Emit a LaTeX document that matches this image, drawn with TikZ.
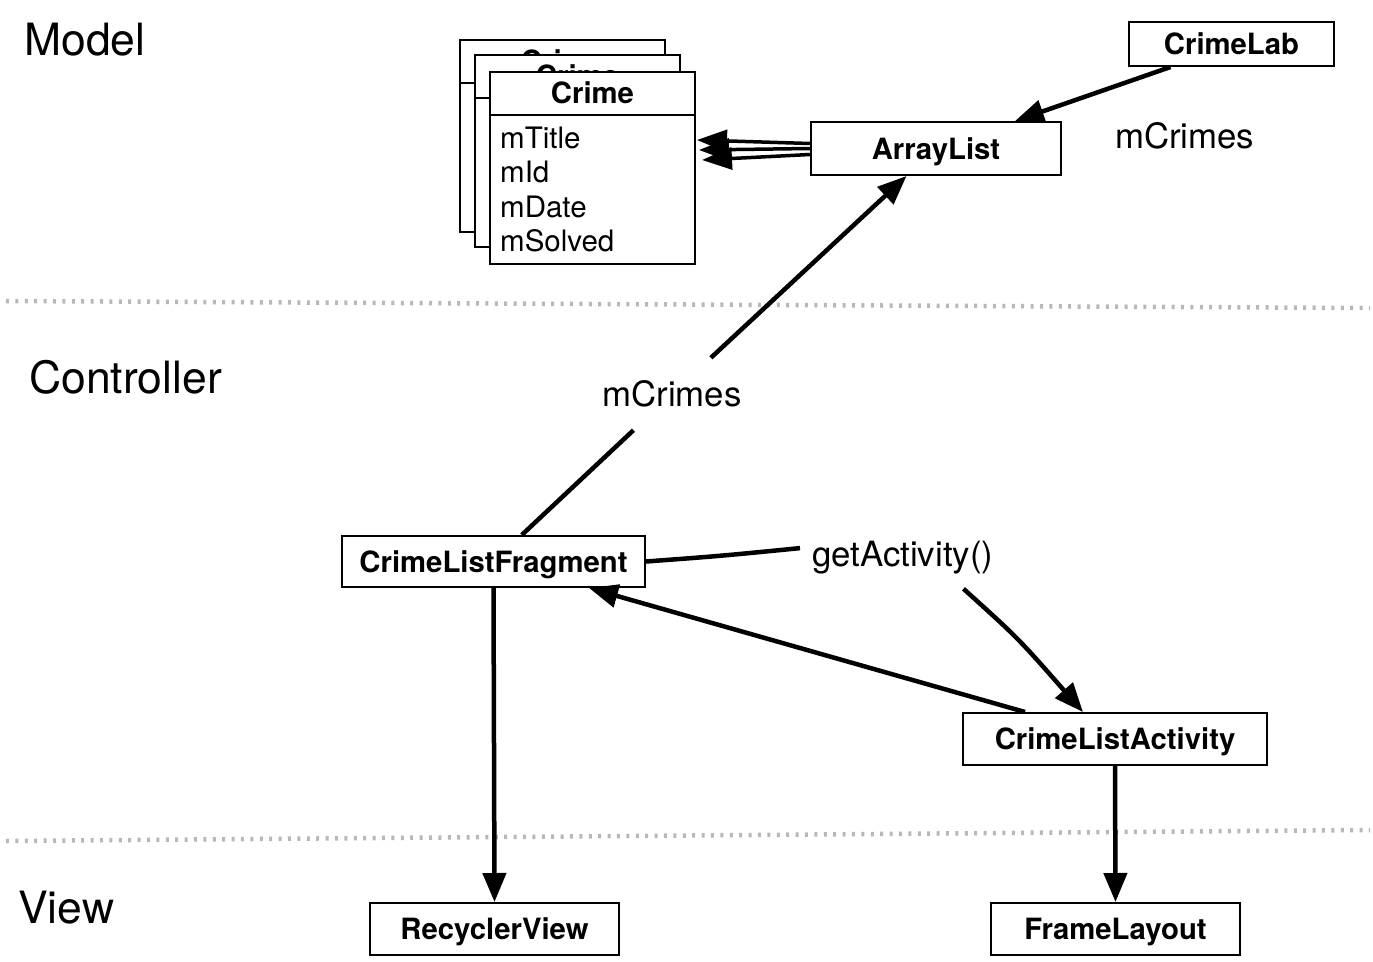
\documentclass[tikz,border=0pt]{standalone}
\usepackage{fontspec}
\setmainfont{TeX Gyre Heros}
\usetikzlibrary{arrows.meta,calc}
\tikzset{
  box/.style={draw=black, line width=2pt, fill=white, inner sep=0pt, text height=21pt, text depth=0pt,
    font=\fontsize{29.3}{32}\selectfont\bfseries},
  card/.style={draw=black, line width=2pt, fill=white, inner sep=0pt, minimum width=205pt, minimum height=192pt},
  cardline/.style={draw=black, line width=2pt},
  hdr/.style={inner sep=0pt, font=\fontsize{29.3}{32}\selectfont\bfseries, anchor=base},
  fld/.style={inner sep=0pt, font=\fontsize{29.5}{32}\selectfont, anchor=base west},
  sect/.style={inner sep=0pt, font=\fontsize{44.5}{48}\selectfont, anchor=base west},
  elab/.style={inner sep=0pt, font=\fontsize{34.8}{38}\selectfont},
  conn/.style={draw=black, line width=4.5pt, -{Triangle[length=29pt,width=23pt]}},
  plain/.style={draw=black, line width=4.5pt},
  thin/.style={draw=black, line width=3.5pt, -{Triangle[length=30pt,width=22pt]}},
  sep/.style={draw=black!28, line width=4.5pt, dash pattern=on 3pt off 6.4pt}
}
\newcommand\crimecard[4]{%
  \node[card, anchor=north west] (#1) at (#2,#3) {};
  \draw[cardline] ($(#1.north west)+(0,44)$) -- ($(#1.north east)+(0,44)$);
  \node[hdr] (#1h) at ($(#1.north)+(0,32)$) {Crime};
  \node[fld] (#1a) at ($(#1.north west)+(#4,77)$) {mTitle};
  \node[fld] (#1b) at ($(#1.north west)+(#4,111.5)$) {mId};
  \node[fld] (#1c) at ($(#1.north west)+(#4,146)$) {mDate};
  \node[fld] (#1d) at ($(#1.north west)+(#4,180.5)$) {mSolved};
}
\begin{document}
\begin{tikzpicture}[x=1pt,y=-1pt]
\path[fill=white,use as bounding box] (0,0) rectangle (1373,961);
% separators
\coordinate (s1a) at (6,301); \coordinate (s1b) at (1370,308);
\coordinate (s2a) at (6,841); \coordinate (s2b) at (1370,830);
\draw[sep] (s1a) -- (s1b);
\draw[sep] (s2a) -- (s2b);
% section labels
\node[sect] (model) at (24,55) {Model};
\node[sect] (ctrl) at (29,393) {Controller};
\node[sect] (view) at (18,923) {View};
% crime cards
\crimecard{cA}{459}{39}{13}
\crimecard{cB}{474}{54}{13}
\crimecard{cC}{489}{71}{11}
% boxes
\node[box, minimum width=205pt, minimum height=44pt] (lab) at (1231.5,44) {CrimeLab};
\node[box, minimum width=250pt, minimum height=53pt] (arr) at (936,148.5) {ArrayList};
\node[box, minimum width=303pt, minimum height=51pt] (frag) at (493.5,561.5) {CrimeListFragment};
\node[box, minimum width=304pt, minimum height=52pt] (act) at (1115,739) {CrimeListActivity};
\node[box, minimum width=249pt, minimum height=52pt] (rec) at (494.5,929) {RecyclerView};
\node[box, minimum width=249pt, minimum height=52pt] (frame) at (1115.5,929) {FrameLayout};
% edge labels
\node[elab, anchor=base west] (m1) at (1115,148) {mCrimes};
\node[elab, minimum height=72pt] (m2) at (672,394) {mCrimes};
\node[elab, anchor=base west] (ga) at (812,566) {getActivity()};
% connectors
\draw[conn] ($(lab.south)+(-61,0)$) -- ($(arr.north)+(79,0)$);
\draw[thin] ($(arr.west)+(0,-5)$) -- ($(cC.east)+(1,-28)$);
\draw[thin] ($(arr.west)+(0,0)$) -- ($(cC.east)+(3,-18)$);
\draw[thin] ($(arr.west)+(0,6)$) -- ($(cC.east)+(6,-8)$);
\draw[plain] (frag) -- (m2);
\draw[conn] (m2) -- (arr);
\draw[plain] (frag.east) .. controls (720,556) .. ($(ga.west)+(-12,-9)$);
\draw[conn] ($(ga.south east)+(-30,15)$) .. controls (1018,638) .. ($(act.north)+(-32,0)$);
\draw[conn] ($(act.north)+(-90,0)$) -- ($(frag.south east)+(-57,0)$);
\draw[conn] (frag.south) -- (rec.north);
\draw[conn] (act.south) -- (frame.north);
\end{tikzpicture}
\end{document}
